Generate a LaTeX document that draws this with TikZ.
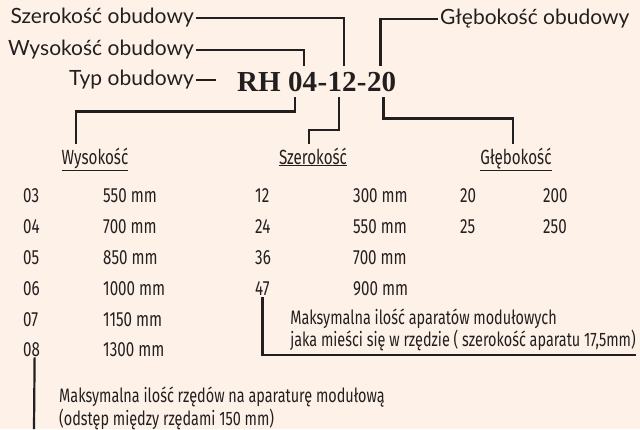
\documentclass[tikz,border=0pt]{standalone}
\usepackage{fontspec}
\setmainfont{Lato}
\newfontfamily\tabfont[FakeStretch=0.74]{Fira Sans}
\newfontfamily\kodfont{Liberation Serif}
\usetikzlibrary{positioning}
\definecolor{tlo}{RGB}{254,242,232}
\definecolor{tusz}{RGB}{35,31,32}
\tikzset{
  opis/.style={font=\fontsize{21}{24}\selectfont, text=tusz, inner sep=2pt},
  kod/.style={font=\kodfont\bfseries\fontsize{29}{32}\selectfont, text=tusz, inner xsep=0pt, inner ysep=6pt},
  tab/.style={font=\tabfont\fontsize{20.5}{22}\selectfont, text=tusz, inner sep=0pt, anchor=base west},
  nagl/.style={tab, anchor=base, inner sep=3pt},
  uwaga/.style={tab, align=left, font=\tabfont\fontsize{19.5}{17.5}\selectfont},
  lacz/.style={draw=tusz, line width=2.2pt}
}

\begin{document}
\begin{tikzpicture}[x=1pt, y=-1pt]
        \fill[tlo] (0,0) rectangle (640,429);
        \useasboundingbox (0,0) rectangle (640,429);

        % oznaczenie obudowy
        \node[kod, anchor=base west] (kRH) at (237,91) {RH};
        \node[kod, base right=7pt of kRH] (k04) {04};
        \node[kod, base right=0pt of k04] (kA) {-};
        \node[kod, base right=0pt of kA] (k12) {12};
        \node[kod, base right=0pt of k12] (kB) {-};
        \node[kod, base right=0pt of kB] (k20) {20};

        % opisy
        \node[opis, anchor=east] (szer) at (196,18) {Szerokość obudowy};
        \node[opis, anchor=east] (wys) at (196,50) {Wysokość obudowy};
        \node[opis, anchor=east] (typ) at (196,80) {Typ obudowy};
        \node[opis, anchor=west] (gleb) at (438,19) {Głębokość obudowy};

        \draw[lacz] (szer.east) -| ([xshift=2pt]k12.north);
        \draw[lacz] (wys.east) -| ([xshift=1pt]k04.north);
        \draw[lacz] (typ.east) -- ++(20,0);
        \draw[lacz] ([xshift=-1pt]k20.north) |- (gleb.west);

        % naglowki tabeli
        \node[nagl] (hWys) at (95,164) {\underline{Wysokość}};
        \node[nagl] (hSzer) at (313,164) {\underline{Szerokość}};
        \node[nagl] (hGleb) at (516,164) {\underline{Głębokość}};

        \draw[lacz] ([xshift=-8pt]k04.south) -- ++(0,14) -| ([xshift=-19pt]hWys.north);
        \draw[lacz] ([xshift=-3pt]k12.south) -- ++(0,33) -| ([xshift=-4pt]hSzer.north);
        \draw[lacz] ([xshift=2pt]k20.south) -- ++(0,21) -| ([xshift=-3pt]hGleb.north);

        % wysokosc
        \node[tab] (w03) at (23,202) {03};
        \node[tab] (w04) at (23,233) {04};
        \node[tab] (w05) at (23,264) {05};
        \node[tab] (w06) at (23,295) {06};
        \node[tab] (w07) at (23,326) {07};
        \node[tab] (w08) at (23,356) {08};
        \node[tab] (w03v) at (103,202) {550 mm};
        \node[tab] (w04v) at (103,233) {700 mm};
        \node[tab] (w05v) at (103,264) {850 mm};
        \node[tab] (w06v) at (103,295) {1000 mm};
        \node[tab] (w07v) at (103,326) {1150 mm};
        \node[tab] (w08v) at (103,356) {1300 mm};

        % szerokosc
        \node[tab] (s12) at (255,202) {12};
        \node[tab] (s24) at (255,233) {24};
        \node[tab] (s36) at (255,264) {36};
        \node[tab] (s47) at (255,295) {47};
        \node[tab] (s12v) at (353,202) {300 mm};
        \node[tab] (s24v) at (353,233) {550 mm};
        \node[tab] (s36v) at (353,264) {700 mm};
        \node[tab] (s47v) at (353,295) {900 mm};

        % glebokosc
        \node[tab] (g20) at (460,202) {20};
        \node[tab] (g25) at (460,233) {25};
        \node[tab] (g20v) at (543,202) {200};
        \node[tab] (g25v) at (543,233) {250};

        % uwagi
        \node[uwaga, anchor=south east, inner ysep=4pt] (uSzer) at (636,355)
          {Maksymalna ilość aparatów modułowych\\jaka mieści się w rzędzie ( szerokość aparatu 17,5mm)};
        \node[uwaga, anchor=north west, font=\tabfont\fontsize{19.5}{16.5}\selectfont] (uWys) at (59,387)
          {Maksymalna ilość rzędów na aparaturę modułową\\(odstęp między rzędami 150 mm)};
        \coordinate (dol) at (34,429);

        \draw[lacz] (s47.south) ++(0,2) |- (uSzer.south east);
        \draw[lacz] ([xshift=3pt, yshift=-1pt]w08.south) -- (dol);
    \end{tikzpicture}
\end{document}
